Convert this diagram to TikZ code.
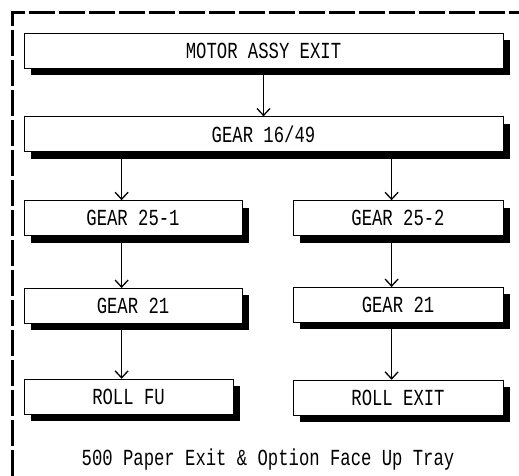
\documentclass[tikz,border=0pt]{standalone}
\usepackage{fontspec}
\newfontfamily\gearfont[FakeStretch=0.75]{Liberation Mono}
\usetikzlibrary{arrows.meta,positioning,shadows}

\begin{document}
\begin{tikzpicture}[
      x=1pt,y=1pt,
      gbox/.style={draw,line width=0.8pt,fill=white,minimum height=35pt,
        font=\gearfont\fontsize{23}{26}\selectfont,
        drop shadow={shadow xshift=7pt,shadow yshift=-7pt,fill=black,opacity=1}},
      arr/.style={-{Straight Barb[length=7pt,width=13pt]},line width=1.3pt}
    ]
    \useasboundingbox (0,0) rectangle (519,-476);
    % dashed frame (only top and left edge are visible)
    \draw[line width=3pt,dash pattern=on 26pt off 4pt] (12,-476) -- (12,-13) -- (519,-13);

    \node[gbox,minimum width=479pt] (motor) at (263.5,-50.5) {MOTOR ASSY EXIT};
    \node[gbox,minimum width=479pt,below=48pt of motor] (g1649) {GEAR 16/49};
    \node[gbox,minimum width=218pt,below=48pt of g1649.south west,anchor=north west] (g251) {GEAR 25-1};
    \node[gbox,minimum width=210pt,below=48pt of g1649.south east,anchor=north east] (g252) {GEAR 25-2};
    \node[gbox,minimum width=218pt,below=52pt of g251.south west,anchor=north west] (g21a) {GEAR 21};
    \node[gbox,minimum width=210pt,below=51pt of g252.south west,anchor=north west] (g21b) {GEAR 21};
    \node[gbox,minimum width=209pt,below=55pt of g21a.south west,anchor=north west] (rollfu) {ROLL FU};
    \node[gbox,minimum width=210pt,below=57pt of g21b.south west,anchor=north west] (rollexit) {ROLL EXIT};
    \node[font=\gearfont\fontsize{23}{26}\selectfont] (tray) at (268,-460) {500 Paper Exit \& Option Face Up Tray};

    \draw[arr] (motor.south) -- (g1649.north);
    \draw[arr] ([xshift=98pt]g251.north west |- g1649.south) -- ([xshift=98pt]g251.north west);
    \draw[arr] ([xshift=99pt]g252.north west |- g1649.south) -- ([xshift=99pt]g252.north west);
    \draw[arr] ([xshift=98pt]g251.south west) -- ([xshift=98pt]g21a.north west);
    \draw[arr] ([xshift=99pt]g252.south west) -- ([xshift=99pt]g21b.north west);
    \draw[arr] ([xshift=98pt]g21a.south west) -- ([xshift=98pt]rollfu.north west);
    \draw[arr] ([xshift=99pt]g21b.south west) -- ([xshift=99pt]rollexit.north west);
  \end{tikzpicture}
\end{document}
